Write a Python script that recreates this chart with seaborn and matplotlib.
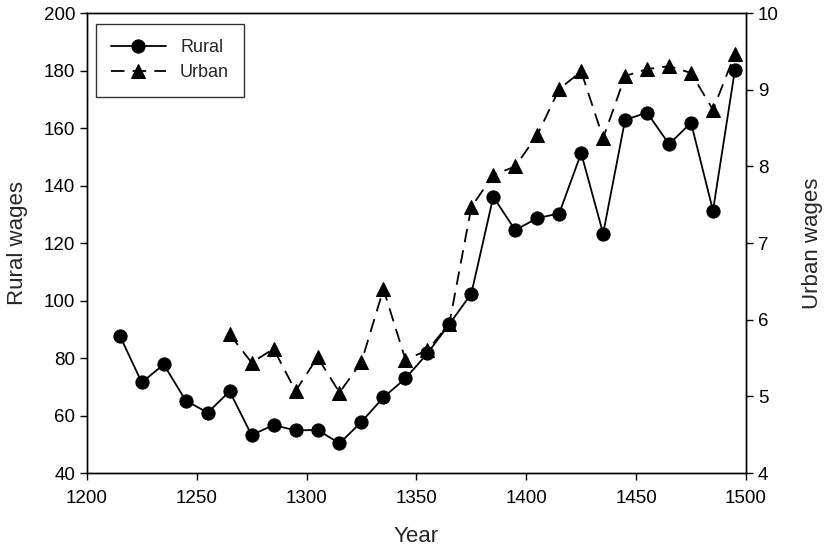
import matplotlib
matplotlib.use("Agg")
import matplotlib.pyplot as plt
import seaborn as sns
import pandas as pd

rural_years = [1215, 1225, 1235, 1245, 1255, 1265, 1275, 1285, 1295, 1305, 1315, 1325, 1335,
               1345, 1355, 1365, 1375, 1385, 1395, 1405, 1415, 1425, 1435, 1445, 1455, 1465,
               1475, 1485, 1495]
rural_wages = [87.8, 71.5, 77.8, 65.2, 61.0, 68.4, 53.2, 56.7, 54.8, 55.0, 50.3, 57.8, 66.3,
               72.9, 81.6, 91.8, 102.4, 136.1, 124.5, 128.7, 130.3, 151.3, 123.3, 162.9, 165.4,
               154.4, 161.9, 131.3, 180.4]

urban_years = [1265, 1275, 1285, 1295, 1305, 1315, 1325, 1335, 1345, 1355, 1365, 1375, 1385,
               1395, 1405, 1415, 1425, 1435, 1445, 1455, 1465, 1475, 1485, 1495]
urban_wages = [5.81, 5.44, 5.62, 5.07, 5.51, 5.05, 5.45, 6.40, 5.48, 5.60, 5.95, 7.47, 7.89,
               8.00, 8.41, 9.01, 9.24, 8.37, 9.18, 9.27, 9.31, 9.22, 8.74, 9.47]

x_ticks = [1200, 1250, 1300, 1350, 1400, 1450, 1500]
left_ticks = [40, 60, 80, 100, 120, 140, 160, 180, 200]
right_ticks = [4, 5, 6, 7, 8, 9, 10]

sns.set_style("ticks")
plt.rcParams['font.family'] = ['Liberation Sans', 'DejaVu Sans']

rural_df = pd.DataFrame({"Year": rural_years, "Rural wages": rural_wages})
urban_df = pd.DataFrame({"Year": urban_years, "Urban wages": urban_wages})

fig = plt.figure(figsize=(8.27, 5.5), dpi=100)
ax = fig.add_axes([0.105, 0.14, 0.797, 0.836])
ax2 = ax.twinx()

sns.lineplot(data=rural_df, x="Year", y="Rural wages", ax=ax, color="black",
             marker="o", markersize=9.5, markeredgecolor="black", linewidth=1.3,
             label="Rural", legend=False)
sns.lineplot(data=urban_df, x="Year", y="Urban wages", ax=ax2, color="black",
             marker="^", markersize=9.5, markeredgecolor="black", linewidth=1.3,
             dashes=False, linestyle=(0, (7.5, 4.5)), label="Urban", legend=False)

ax.set_xlim(1200, 1500)
ax.set_ylim(40, 200)
ax2.set_ylim(4, 10)
ax.set_xticks(x_ticks)
ax.set_yticks(left_ticks)
ax2.set_yticks(right_ticks)

for a in (ax, ax2):
    for s in a.spines.values():
        s.set_visible(True)
        s.set_linewidth(1.0)
        s.set_color("black")
    a.tick_params(direction="out", length=5, width=1.0, labelsize=13.5, colors="black")
ax.tick_params(axis="x", pad=7)

ax.set_xlabel("Year", fontsize=16, labelpad=14)
ax.set_ylabel("Rural wages", fontsize=16, labelpad=11)
ax2.set_ylabel("Urban wages", fontsize=16, labelpad=17)

h1, l1 = ax.get_legend_handles_labels()
h2, l2 = ax2.get_legend_handles_labels()
leg = ax2.legend(h1 + h2, l1 + l2, loc="upper left", bbox_to_anchor=(0.014, 0.977),
                 borderaxespad=0, fontsize=13, frameon=True, fancybox=False,
                 edgecolor="black", handlelength=3.0, handletextpad=0.8,
                 borderpad=0.85, labelspacing=0.45)
leg.get_frame().set_linewidth(1.0)

fig.savefig("out.png", dpi=100, facecolor="white")
